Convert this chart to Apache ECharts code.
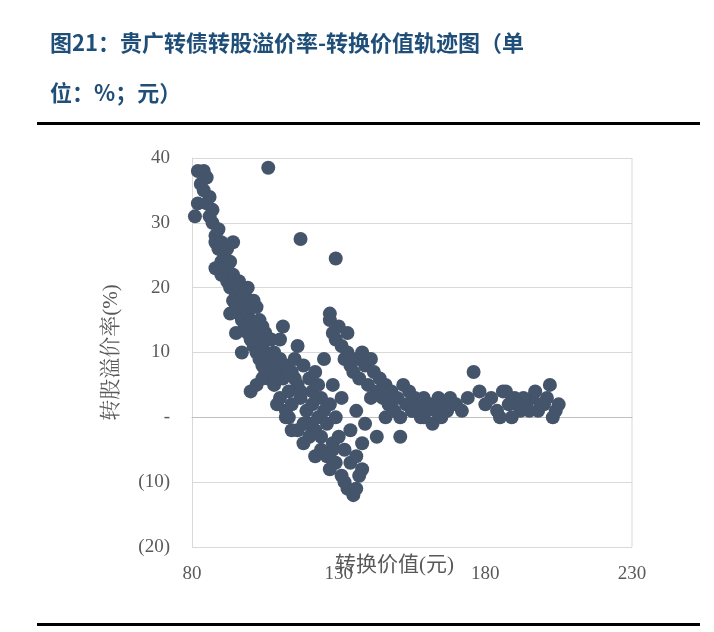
<!DOCTYPE html>
<html><head><meta charset="utf-8">
<script src="https://cdn.jsdelivr.net/npm/echarts@6/dist/echarts.min.js"></script>
<style>body{margin:0;background:#fff}#c{width:714px;height:632px}</style></head>
<body><div id="c"></div>
<script>
const xTicks=[80,130,180,230];
const yTicks=[40,30,20,10,0,-10,-20];
const convValue=[
81,82,82,83,84,84,85,85,86,86,
87,87,88,88,89,89,90,90,91,91,
92,92,93,93,94,94,95,95,96,96,
97,97,98,98,99,99,100,100,101,101,
102,102,103,103,104,104,105,105,106,106,
92,94,96,98,100,102,104,90,88,93,
99,101,103,105,107,97,95,102,100,104,
107,108,108,109,110,110,111,112,112,113,
113,114,114,115,116,116,117,118,118,119,
120,120,121,122,122,123,124,124,125,126,
126,127,127,128,128,129,129,130,131,131,
132,132,133,134,134,135,136,136,137,138,
110,112,114,116,118,120,122,124,125,109,
115,117,119,121,123,111,113,106,108,128,
127,128,129,130,131,132,133,134,135,136,
137,138,139,140,141,142,143,144,145,146,
147,148,149,150,151,152,153,154,155,156,
157,158,159,160,161,162,163,164,165,166,
167,168,170,172,174,176,178,180,182,184,
186,188,190,192,194,196,198,200,202,204,
205,203,201,199,197,195,193,191,189,187,
133,136,139,141,143,146,151,155,159,185,
106,117,129,127,140,138];
const premium=[
31,33,38,36,38,35,33,37,31,34,
30,32,28,27,26,29,24,27,22,25,
23,21,20,24,18,22,19,17,21,16,
18,15,17,14,13,16,15,12,14,11,
13,10,12,9,11,8,10,7,9,6,
26,27,20,19,18,17,14,22,23,16,
20,18,15,13,12,10,13,5,4,6,
8,5,10,7,3,9,6,1,8,4,
0,7,2,9,-2,5,3,-1,8,1,
6,-3,4,-2,7,0,3,-5,9,-1,
-6,2,-8,5,-4,-7,0,-3,-9,3,
-10,-5,-11,-7,-2,-12,-11,-6,-9,-4,
12,0,-2,11,-4,-1,-6,-3,1,2,
6,4,-1,2,5,14,7,12,6,-5,
15,13,12,14,11,9,10,8,7,9,
6,10,8,5,9,7,4,6,3,5,
2,4,1,3,0,5,2,4,1,3,
2,0,3,1,2,-1,1,3,0,2,
1,3,2,1,3,7,4,2,3,1,
4,2,3,1,2,3,1,2,5,1,
2,0,3,2,4,1,3,2,0,4,
13,1,-1,3,-3,0,-3,1,0,0,
38.5,27.5,24.5,16,9,-8];
const pts=convValue.map((x,i)=>[x,premium[i]]);
const chart=echarts.init(document.getElementById('c'));
const fmt=v=>v===0?'-':(v<0?'('+(-v)+')':String(v));
chart.setOption({
 animation:false,
 graphic:[
  {type:'text',left:50,top:32,style:{text:'图21：贵广转债转股溢价率-转换价值轨迹图（单',font:'bold 22px "Noto Sans CJK SC"',fill:'#1f4e79'}},
  {type:'text',left:50,top:82,style:{text:'位：%；元）',font:'bold 22px "Noto Sans CJK SC"',fill:'#1f4e79'}},
  {type:'rect',shape:{x:37,y:122,width:663,height:3},style:{fill:'#000'}},
  {type:'rect',shape:{x:37,y:623,width:663,height:3},style:{fill:'#000'}},
  {type:'text',left:335,top:555,style:{text:'转换价值(元)',font:'21px "Liberation Serif","Noto Sans CJK SC"',fill:'#595959'}},
  {type:'line',shape:{x1:632,y1:158,x2:632,y2:547},style:{stroke:'#d9d9d9'}}
 ],
 grid:{left:192,top:158,width:440,height:389},
 xAxis:{type:'value',min:80,max:230,interval:50,
  axisLine:{onZero:true,lineStyle:{color:'#bfbfbf'}},axisTick:{show:false},
  axisLabel:{color:'#595959',fontSize:19,fontFamily:'Liberation Serif',margin:18},
  splitLine:{show:false}},
 yAxis:{type:'value',min:-20,max:40,interval:10,
  name:'转股溢价率(%)',nameLocation:'middle',nameGap:70,nameTextStyle:{color:'#595959',fontSize:21,fontFamily:'Liberation Serif, Noto Serif CJK SC'},
  axisLine:{show:true,lineStyle:{color:'#d9d9d9'}},axisTick:{show:false},
  axisLabel:{formatter:fmt,color:'#595959',fontSize:19,fontFamily:'Liberation Serif',margin:22},
  splitLine:{lineStyle:{color:'#d9d9d9'}}},
 series:[{type:'scatter',data:pts,symbolSize:14,itemStyle:{color:'#44546a',opacity:1}}]
});
</script></body></html>
